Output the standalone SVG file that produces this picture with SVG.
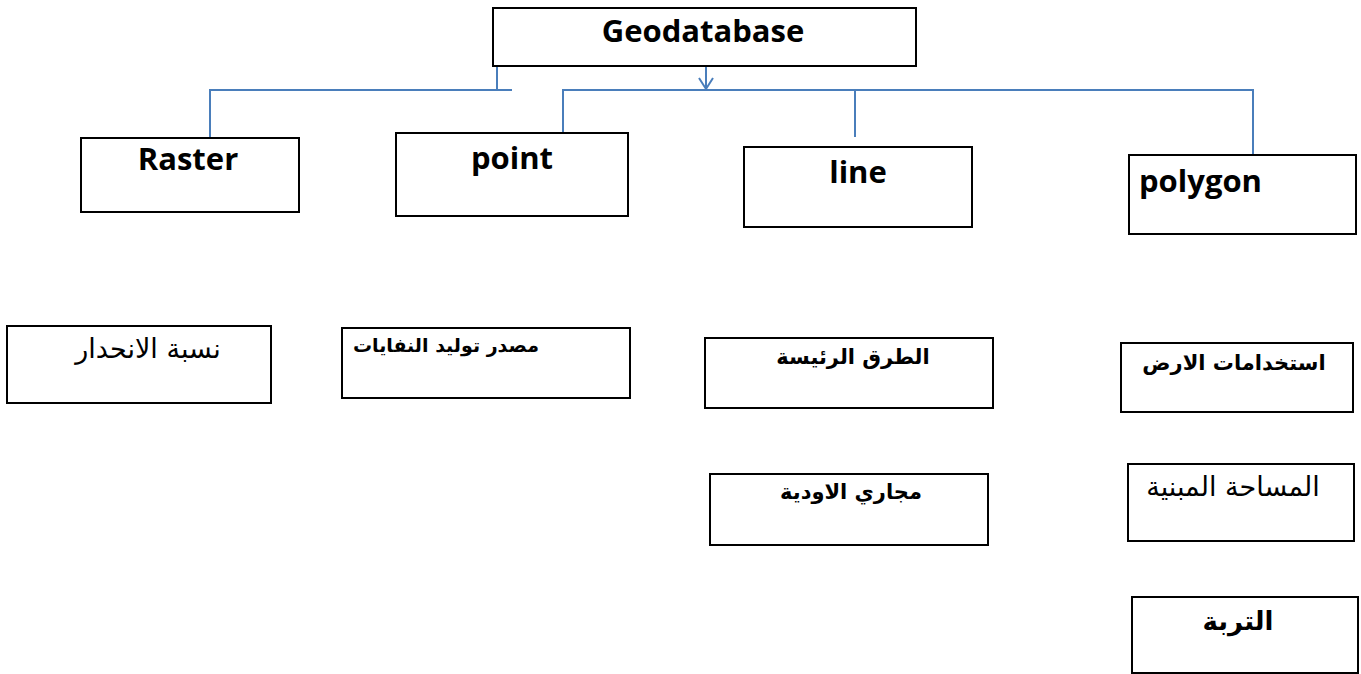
<svg xmlns="http://www.w3.org/2000/svg" width="1361" height="674" viewBox="0 0 1361 674">
<style>
.box{fill:#fff;stroke:#000;stroke-width:2}
.en{font-family:"Open Sans","Liberation Sans",sans-serif;font-weight:bold;font-size:31px;fill:#000}
.ar{font-family:"DejaVu Sans","Noto Sans",sans-serif;font-size:21px;fill:#000;text-anchor:middle}
.arr{font-size:27px}
.arb{font-weight:bold}
.con{fill:none;stroke:#4a7ebb;stroke-width:2}
</style>
<defs>
<marker id="arr" markerWidth="14" markerHeight="16" refX="12" refY="8" orient="auto" markerUnits="userSpaceOnUse" viewBox="0 0 14 16">
<path d="M1,1 L12,8 L1,15" fill="none" stroke="#4a7ebb" stroke-width="2"/>
</marker>
</defs>
<rect width="1361" height="674" fill="#fff"/>
<g id="connectors">
<path class="con" d="M497,66 V90 M512,90 H210 V138"/>
<path class="con" d="M706,66 V89" marker-end="url(#arr)"/>
<path class="con" d="M563,137 V90 H1253 V155 M855,90 V137"/>
</g>
<g id="geodatabase"><rect class="box" x="493" y="8" width="423" height="58"/><text class="en" x="703" y="42" text-anchor="middle">Geodatabase</text></g>
<g id="raster"><rect class="box" x="81" y="138" width="218" height="74"/><text class="en" x="188" y="170" text-anchor="middle">Raster</text></g>
<g id="point"><rect class="box" x="396" y="133" width="232" height="83"/><text class="en" x="512" y="169" text-anchor="middle">point</text></g>
<g id="line"><rect class="box" x="744" y="147" width="228" height="80"/><text class="en" x="858" y="183" text-anchor="middle">line</text></g>
<g id="polygon"><rect class="box" x="1129" y="155" width="227" height="79"/><text class="en" x="1139" y="192">polygon</text></g>
<g id="slope"><rect class="box" x="7" y="326" width="264" height="77"/><text class="ar arr" x="148" y="358" direction="rtl">نسبة الانحدار</text></g>
<g id="waste"><rect class="box" x="342" y="328" width="288" height="70"/><text class="ar arb" x="446" y="352" style="font-size:19px" direction="rtl">مصدر توليد النفايات</text></g>
<g id="roads"><rect class="box" x="705" y="338" width="288" height="70"/><text class="ar arb" x="853" y="364" direction="rtl">الطرق الرئيسة</text></g>
<g id="landuse"><rect class="box" x="1121" y="343" width="232" height="69"/><text class="ar arb" x="1234" y="370" direction="rtl">استخدامات الارض</text></g>
<g id="wadis"><rect class="box" x="710" y="474" width="278" height="71"/><text class="ar arb" x="851" y="499" direction="rtl">مجاري الاودية</text></g>
<g id="built"><rect class="box" x="1128" y="464" width="226" height="77"/><text class="ar arr" x="1233" y="496" direction="rtl">المساحة المبنية</text></g>
<g id="soil"><rect class="box" x="1132" y="597" width="226" height="76"/><text class="ar arb" x="1238" y="630" style="font-size:26px" direction="rtl">التربة</text></g>
</svg>
